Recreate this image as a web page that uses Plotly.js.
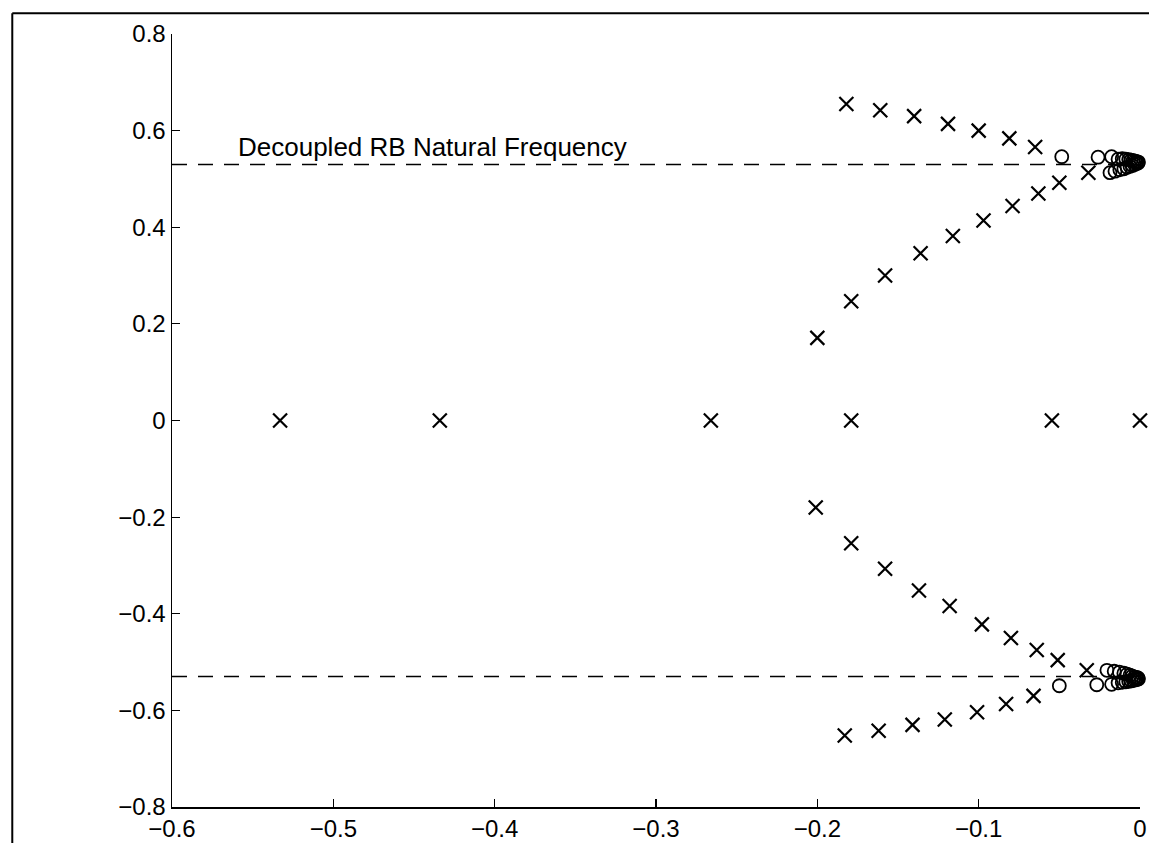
<!DOCTYPE html>
<html>
<head>
<meta charset="utf-8">
<script src="https://cdn.plot.ly/plotly-3.0.1.min.js"></script>
<style>
  html, body { margin: 0; padding: 0; background: #fff; }
  #plot { width: 1149px; height: 843px; }
</style>
</head>
<body>
<div id="plot"></div>
<script>
// Closed-loop poles (x = real part, y = imaginary part)

// Poles on the real axis
const realX = [-0.533, -0.434, -0.266, -0.179, -0.0546, 0];
const realY = [0, 0, 0, 0, 0, 0];

// Outer branch rising above the RB frequency line
const outerUpX = [-0.182, -0.161, -0.140, -0.119, -0.100, -0.081, -0.065];
const outerUpY = [0.655, 0.642, 0.630, 0.614, 0.600, 0.584, 0.566];

// Inner branch approaching the RB frequency line from below
const innerUpX = [-0.200, -0.179, -0.158, -0.136, -0.116, -0.097, -0.079, -0.063, -0.050, -0.032];
const innerUpY = [0.171, 0.247, 0.300, 0.346, 0.382, 0.414, 0.444, 0.470, 0.492, 0.513];

// Lower half: conjugate branches
const innerLoX = [-0.201, -0.179, -0.158, -0.137, -0.118, -0.098, -0.080, -0.064, -0.051, -0.033];
const innerLoY = [-0.180, -0.254, -0.307, -0.352, -0.384, -0.422, -0.450, -0.475, -0.496, -0.517];
const outerLoX = [-0.183, -0.162, -0.141, -0.121, -0.101, -0.083, -0.066];
const outerLoY = [-0.652, -0.642, -0.630, -0.619, -0.604, -0.587, -0.570];

// Open-loop zeros clustered near the RB natural frequency
const zeroUpX = [-0.0485, -0.026, -0.0176, -0.0136, -0.011, -0.0088, -0.007, -0.0055, -0.0042, -0.003, -0.002, -0.001,
                 -0.0186, -0.0155, -0.0125, -0.010, -0.008, -0.0062, -0.0047, -0.0034, -0.0022, -0.0012];
const zeroUpY = [0.546, 0.545, 0.546, 0.541, 0.542, 0.541, 0.540, 0.539, 0.538, 0.537, 0.536, 0.535,
                 0.513, 0.516, 0.519, 0.521, 0.524, 0.526, 0.528, 0.530, 0.532, 0.533];
const zeroLoX = [-0.050, -0.0268, -0.0176, -0.0136, -0.011, -0.0088, -0.007, -0.0055, -0.0042, -0.003, -0.002, -0.001,
                 -0.0205, -0.016, -0.0128, -0.010, -0.008, -0.0062, -0.0047, -0.0034, -0.0022, -0.0012];
const zeroLoY = [-0.549, -0.547, -0.546, -0.543, -0.542, -0.541, -0.540, -0.539, -0.538, -0.537, -0.536, -0.535,
                 -0.517, -0.519, -0.521, -0.523, -0.525, -0.527, -0.529, -0.531, -0.532, -0.533];

// Decoupled rigid-body natural frequency
const rbFreq = 0.53;
const rbLabel = 'Decoupled RB Natural Frequency';

const xTicks = [-0.6, -0.5, -0.4, -0.3, -0.2, -0.1, 0];
const yTicks = [-0.8, -0.6, -0.4, -0.2, 0, 0.2, 0.4, 0.6, 0.8];

const FONT = 'Liberation Sans, Arial, Helvetica, sans-serif';

const crossMarker = { symbol: 'x-thin-open', size: 14, color: 'black', line: { color: 'black', width: 2.2 } };
const circleMarker = { symbol: 'circle-open', size: 13, color: 'black', line: { color: 'black', width: 1.8 } };

function poles(x, y) {
  return { type: 'scatter', mode: 'markers', x: x, y: y, marker: crossMarker, cliponaxis: false, hoverinfo: 'x+y' };
}
function zeros(x, y) {
  return { type: 'scatter', mode: 'markers', x: x, y: y, marker: circleMarker, cliponaxis: false, hoverinfo: 'x+y' };
}
function rbLine(y) {
  return { type: 'scatter', mode: 'lines', x: [xTicks[0], xTicks[xTicks.length - 1]], y: [y, y],
           line: { color: 'black', width: 1.5, dash: '15px,11px' }, hoverinfo: 'skip' };
}

const data = [
  rbLine(rbFreq), rbLine(-rbFreq),
  poles(realX, realY),
  poles(outerUpX, outerUpY), poles(innerUpX, innerUpY),
  poles(innerLoX, innerLoY), poles(outerLoX, outerLoY),
  zeros(zeroUpX, zeroUpY), zeros(zeroLoX, zeroLoY)
];

const axisCommon = {
  showgrid: false, zeroline: false, showline: true, linecolor: 'black', linewidth: 1.5,
  ticks: 'inside', ticklen: 8, tickwidth: 1.2, tickcolor: 'black',
  tickfont: { family: FONT, size: 24, color: 'black' }, mirror: false
};

const layout = {
  width: 1149, height: 843,
  margin: { l: 172, r: 9, t: 34, b: 36 },
  paper_bgcolor: 'white', plot_bgcolor: 'white',
  showlegend: false,
  xaxis: Object.assign({}, axisCommon, { range: [-0.6, 0], tickvals: xTicks }),
  yaxis: Object.assign({}, axisCommon, { range: [-0.8, 0.8], tickvals: yTicks }),
  annotations: [{
    x: -0.5604, y: rbFreq, xref: 'x', yref: 'y', xanchor: 'left', yanchor: 'bottom', yshift: 0,
    text: rbLabel, showarrow: false, font: { family: FONT, size: 26, color: 'black' }
  }],
  shapes: [
    // page frame around the figure
    { type: 'line', xref: 'paper', yref: 'paper', x0: -0.165, x1: -0.165, y0: 1.027, y1: -0.06, line: { color: 'black', width: 2 } },
    { type: 'line', xref: 'paper', yref: 'paper', x0: -0.165, x1: 1.02, y0: 1.027, y1: 1.027, line: { color: 'black', width: 2 } }
  ]
};

Plotly.newPlot('plot', data, layout, { displayModeBar: false, staticPlot: true });
</script>
</body>
</html>
